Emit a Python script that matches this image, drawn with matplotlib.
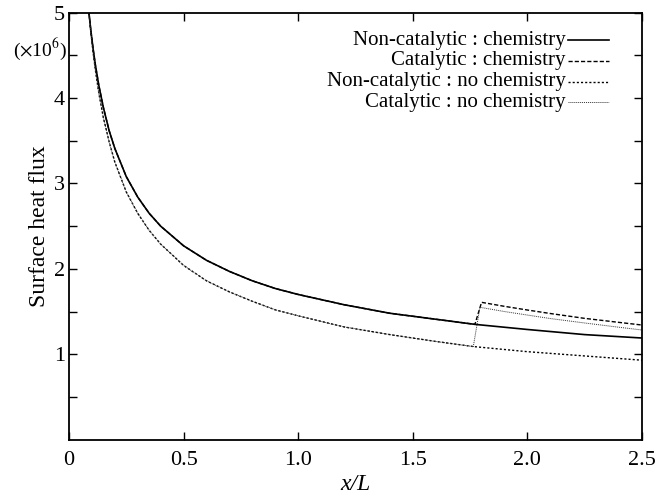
import numpy as np
import matplotlib
matplotlib.use("Agg")
import matplotlib.pyplot as plt

plt.rcParams["font.family"] = "Liberation Serif"
plt.rcParams["mathtext.fontset"] = "stix"

# surface heat flux (x 1e6) along the body
x_nc_chem = [0.087, 0.095, 0.105, 0.115, 0.13, 0.15, 0.175, 0.20, 0.25, 0.30, 0.35, 0.40,
             0.50, 0.60, 0.70, 0.80, 0.90, 1.00, 1.20, 1.40, 1.60, 1.771, 2.00, 2.25, 2.50]
q_nc_chem = [5.00, 4.80, 4.58, 4.39, 4.15, 3.89, 3.62, 3.41, 3.08, 2.84, 2.65, 2.50,
             2.27, 2.10, 1.97, 1.86, 1.77, 1.70, 1.58, 1.48, 1.41, 1.35, 1.29, 1.23, 1.19]

x_c_chem = [0.087, 0.095, 0.105, 0.115, 0.13, 0.15, 0.175, 0.20, 0.25, 0.30, 0.35, 0.40,
            0.50, 0.60, 0.70, 0.80, 0.90, 1.00, 1.20, 1.40, 1.60, 1.771,
            1.80, 1.90, 2.00, 2.10, 2.25, 2.40, 2.50]
q_c_chem = [5.00, 4.80, 4.58, 4.39, 4.15, 3.89, 3.62, 3.41, 3.08, 2.84, 2.65, 2.50,
            2.27, 2.10, 1.97, 1.86, 1.77, 1.70, 1.58, 1.48, 1.41, 1.35,
            1.608, 1.561, 1.518, 1.477, 1.42, 1.373, 1.342]

x_nc_nochem = [0.087, 0.095, 0.105, 0.115, 0.13, 0.15, 0.175, 0.20, 0.25, 0.30, 0.35, 0.40,
               0.50, 0.60, 0.70, 0.80, 0.90, 1.00, 1.20, 1.40, 1.60, 1.764, 2.00, 2.25, 2.50]
q_nc_nochem = [5.00, 4.78, 4.54, 4.33, 4.06, 3.77, 3.49, 3.25, 2.90, 2.65, 2.45, 2.29,
               2.04, 1.86, 1.73, 1.62, 1.52, 1.45, 1.32, 1.23, 1.15, 1.09, 1.03, 0.98, 0.93]

x_c_nochem = [0.087, 0.095, 0.105, 0.115, 0.13, 0.15, 0.175, 0.20, 0.25, 0.30, 0.35, 0.40,
              0.50, 0.60, 0.70, 0.80, 0.90, 1.00, 1.20, 1.40, 1.60, 1.764,
              1.793, 1.90, 2.00, 2.10, 2.25, 2.40, 2.50]
q_c_nochem = [5.00, 4.78, 4.54, 4.33, 4.06, 3.77, 3.49, 3.25, 2.90, 2.65, 2.45, 2.29,
              2.04, 1.86, 1.73, 1.62, 1.52, 1.45, 1.32, 1.23, 1.15, 1.09,
              1.55, 1.50, 1.459, 1.418, 1.366, 1.316, 1.284]

labels = ["Non-catalytic : chemistry", "Catalytic : chemistry",
          "Non-catalytic : no chemistry", "Catalytic : no chemistry"]

fig = plt.figure(figsize=(6.59, 4.99), dpi=100)
ax = fig.add_axes([0.1047, 0.119, 0.8695, 0.8555])

styles = [dict(color="black", lw=1.2, ls="-"),
          dict(color="black", lw=1.0, ls=(0, (3, 1.5))),
          dict(color="black", lw=1.0, ls=(0, (1.5, 1.5))),
          dict(color="#333333", lw=0.7, ls=(0, (1, 1)))]

ax.plot(x_nc_chem, q_nc_chem, **styles[0])
ax.plot(x_c_chem, q_c_chem, **styles[1])
ax.plot(x_nc_nochem, q_nc_nochem, **styles[2])
ax.plot(x_c_nochem, q_c_nochem, **styles[3])

ax.set_xlim(0, 2.5)
ax.set_ylim(0, 5)
ax.set_xticks([0, 0.5, 1.0, 1.5, 2.0, 2.5])
ax.set_xticklabels(["0", "0.5", "1.0", "1.5", "2.0", "2.5"])
ax.set_yticks([1, 2, 3, 4, 5])
ax.set_yticks([0.5, 1.5, 2.5, 3.5, 4.5], minor=True)
ax.tick_params(which="both", direction="in", top=True, right=True,
               labelsize=16, width=1.0, length=6)
ax.tick_params(axis="x", pad=8)
ax.tick_params(axis="y", pad=3)
for s in ax.spines.values():
    s.set_linewidth(1.3)

ax.set_xlabel("x/L", fontsize=17, fontstyle="italic", labelpad=3)
ax.set_ylabel("Surface heat flux", fontsize=17, labelpad=3)
ax.text(-0.006, 4.57, r"($\times$10$^{6}$)", ha="right", va="center", fontsize=14)

# key: label on the left, line sample on the right
rows_y = [0.936, 0.887, 0.838, 0.790]
for lab, st, yy in zip(labels, styles, rows_y):
    ax.text(0.867, yy, lab, transform=ax.transAxes, ha="right", va="center",
            fontsize=15)
    ax.plot([0.871, 0.942], [yy, yy], transform=ax.transAxes, clip_on=False, **st)

fig.savefig("out.png", dpi=100)
